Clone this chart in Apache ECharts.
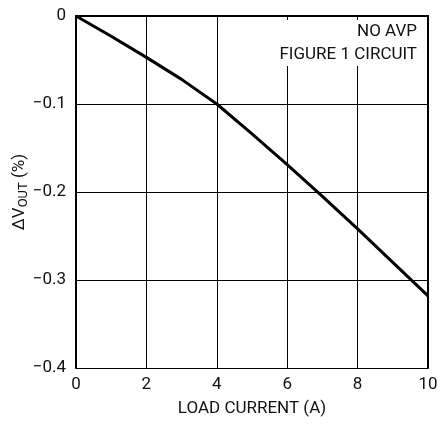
<!DOCTYPE html>
<html><head><meta charset="utf-8">
<script src="https://cdn.jsdelivr.net/npm/echarts@6/dist/echarts.min.js"></script>
<style>html,body{margin:0;padding:0;background:#fff}#c{width:437px;height:424px}</style>
</head><body><div id="c"></div>
<script>
const loadCurrent = [0, 1, 2, 3, 4, 5, 6, 7, 8, 9, 10];
const deltaVout = [0, -0.023, -0.047, -0.072, -0.100, -0.134, -0.169, -0.205, -0.242, -0.280, -0.318];
const xTicks = [0, 2, 4, 6, 8, 10];
const yTicks = [0, -0.1, -0.2, -0.3, -0.4];
const noteLines = ['NO AVP', 'FIGURE 1 CIRCUIT'];

const FONT = "Roboto, 'Liberation Sans', sans-serif";
const FS = 17;
const chart = echarts.init(document.getElementById('c'), null, {renderer: 'canvas'});
const fmtY = v => v === 0 ? '0' : ('\u2212' + Math.abs(v).toFixed(1));
chart.setOption({
  animation: false,
  backgroundColor: '#fff',
  textStyle: {fontFamily: FONT},
  grid: {left: 76, right: 9, top: 16, bottom: 56, containLabel: false, outerBoundsMode: 'none'},
  xAxis: {
    type: 'value', min: 0, max: 10, interval: 2,
    name: 'LOAD CURRENT (A)', nameLocation: 'middle', nameGap: 32,
    nameTextStyle: {fontSize: FS, color: '#111', fontFamily: FONT},
    axisLine: {show: true, lineStyle: {color: '#000', width: 2}},
    axisTick: {show: false},
    axisLabel: {fontSize: FS, color: '#111', margin: 8, fontFamily: FONT,
      formatter: v => xTicks.includes(v) ? String(v) : ''},
    splitLine: {show: true, lineStyle: {color: '#000', width: 1}}
  },
  yAxis: [{
    type: 'value', min: -0.4, max: 0, interval: 0.1,
    name: '\u0394V{sub|OUT} (%)', nameLocation: 'middle', nameGap: 46, nameMoveOverlap: false,
    nameTextStyle: {fontSize: FS, color: '#111', fontFamily: FONT,
      rich: {sub: {fontSize: 13, verticalAlign: 'bottom', padding: [7, 0, 0, 0], color: '#111', fontFamily: FONT}}},
    axisLine: {show: true, lineStyle: {color: '#000', width: 2}},
    axisTick: {show: false},
    axisLabel: {fontSize: FS, color: '#111', margin: 10, fontFamily: FONT,
      formatter: v => yTicks.some(t => Math.abs(t - v) < 1e-9) ? fmtY(v) : ''},
    splitLine: {show: true, lineStyle: {color: '#000', width: 1}}
  }, {
    type: 'value', min: -0.4, max: 0, interval: 0.1, position: 'right',
    axisLine: {show: true, onZero: false, lineStyle: {color: '#000', width: 2}},
    axisTick: {show: false}, axisLabel: {show: false}, splitLine: {show: false}
  }],
  graphic: [{
    type: 'rect', left: 276, top: 20, z: 50,
    shape: {width: 149, height: 46}, style: {fill: '#fff'}
  }, {
    type: 'text', right: 20, top: 23, z: 60,
    style: {text: noteLines[0], fontSize: FS, fill: '#111', fontFamily: FONT}
  }, {
    type: 'text', right: 20, top: 46, z: 60,
    style: {text: noteLines[1], fontSize: FS, fill: '#111', fontFamily: FONT}
  }],
  series: [{
    type: 'line', yAxisIndex: 0,
    data: loadCurrent.map((x, i) => [x, deltaVout[i]]),
    showSymbol: false, smooth: false,
    lineStyle: {color: '#000', width: 3}
  }]
});
</script></body></html>
